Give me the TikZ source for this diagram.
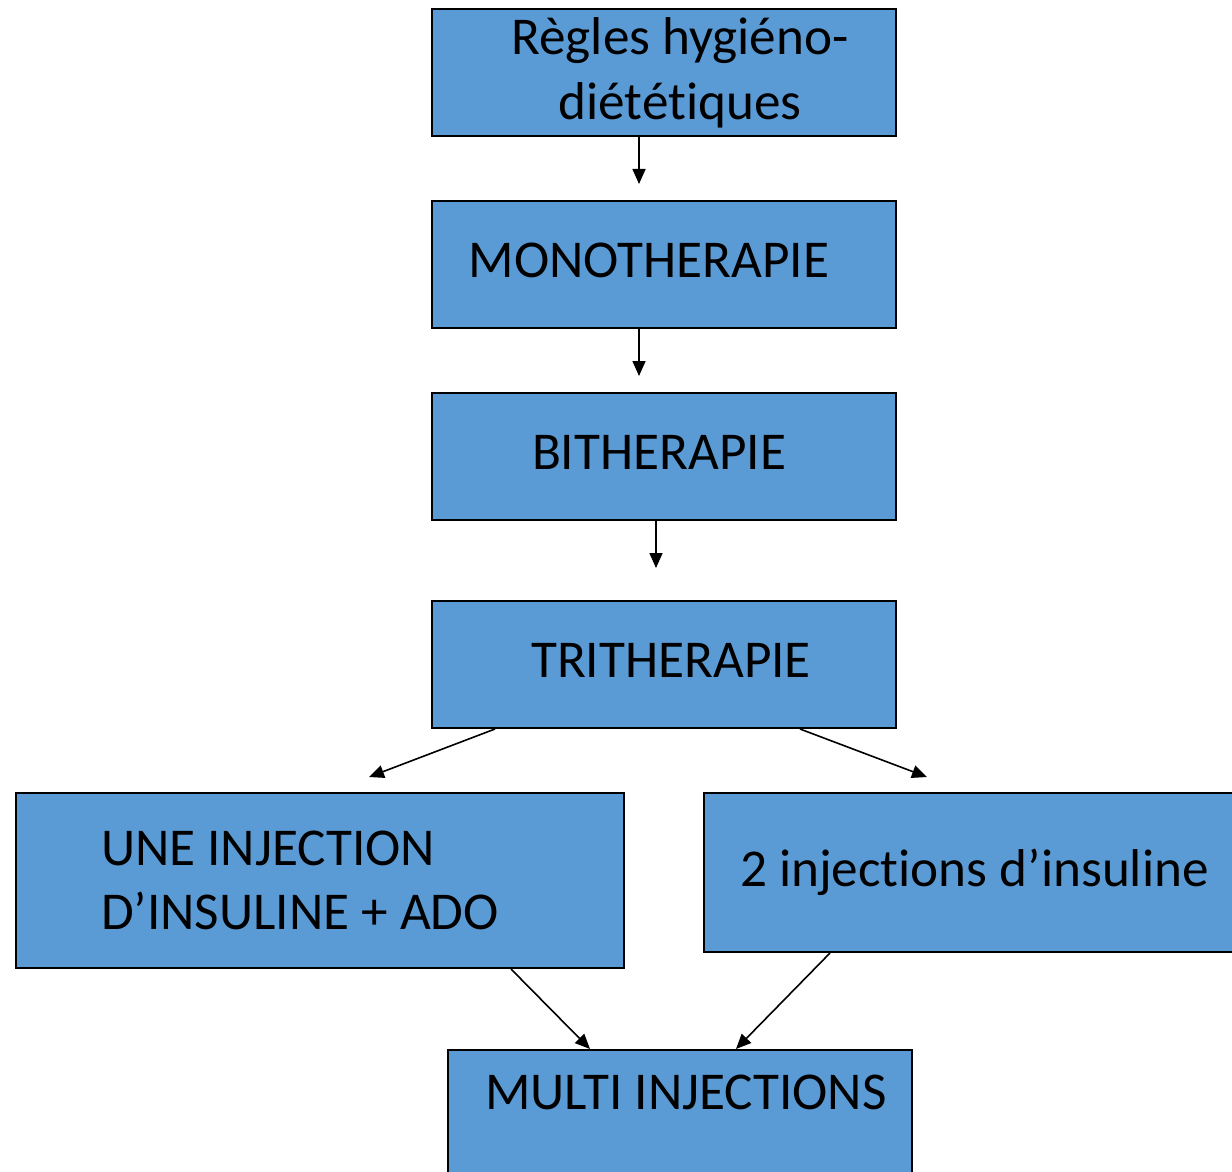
\documentclass[tikz,border=0pt]{standalone}
\usepackage{fontspec}
\setmainfont{Carlito}[Ligatures=NoCommon]
\usetikzlibrary{arrows.meta,positioning}
\definecolor{ink}{HTML}{000000}
\definecolor{boxblue}{HTML}{5B9BD5}
\tikzset{
  >={Triangle[length=7.5pt,width=6.5pt]},
  stage/.style={draw=ink, fill=boxblue, line width=1pt, inner sep=0pt,
                font=\fontsize{26.6}{32.4}\selectfont, text=ink, align=center},
  capsup/.style={text depth=4pt},
  flow/.style={draw=ink, line width=.8pt, ->}
}
\begin{document}
\begin{tikzpicture}[x=0.5pt,y=-0.5pt]
\useasboundingbox (0,0) rectangle (1232,1172);

% Main column of treatment steps.
\node[stage, minimum width=232pt, minimum height=63.5pt] (regles) at (664,72.5)
  {\hspace*{16pt}Règles hygiéno-\\\hspace*{16pt}diététiques};
\node[stage, capsup, minimum width=232pt, minimum height=63.5pt] (mono) at (664,264.5)
  {MONOTHERAPIE\hspace*{15pt}};
\node[stage, capsup, minimum width=232pt, minimum height=63.5pt] (bi) at (664,456.5)
  {BITHERAPIE\hspace*{5pt}};
\node[stage, capsup, minimum width=232pt, minimum height=63.5pt] (tri) at (664,664.5)
  {\hspace*{7pt}TRITHERAPIE};

% Two insulin branches.
\node[stage, minimum width=304pt, minimum height=87.5pt, text width=219pt,
  align=flush left] (une) at (320,880.5)
  {UNE INJECTION\\D’INSULINE + ADO};
\node[stage, minimum width=268pt, minimum height=79.5pt] (deux) at (972,872.5)
  {\hspace*{2.5pt}2 injections d’insuline};

% Final step, cut by the page edge.
\node[stage, anchor=north, minimum width=232pt, text height=17pt,
  text depth=50pt, inner ysep=12.5pt] (multi) at (680,1049)
  {\hspace*{6pt}MULTI INJECTIONS};

% Short arrows between steps end in the gap.
\coordinate (c1) at (639,184);
\coordinate (c2) at (639,376);
\coordinate (c3) at (656,568);
\coordinate (c4) at (369,777);
\coordinate (c5) at (927,777);
\draw[flow] (c1 |- regles.south) -- (c1);
\draw[flow] (c2 |- mono.south) -- (c2);
\draw[flow] (c3 |- bi.south) -- (c3);
\draw[flow] ([xshift=32pt]tri.south west) -- (c4);
\draw[flow] ([xshift=-48.5pt]tri.south east) -- (c5);
\draw[flow] ([xshift=248pt]une.south west) -- ([xshift=71.5pt]multi.north west);
\draw[flow] ([xshift=63.5pt]deux.south west) -- ([xshift=144.5pt]multi.north west);

\end{tikzpicture}
\end{document}
